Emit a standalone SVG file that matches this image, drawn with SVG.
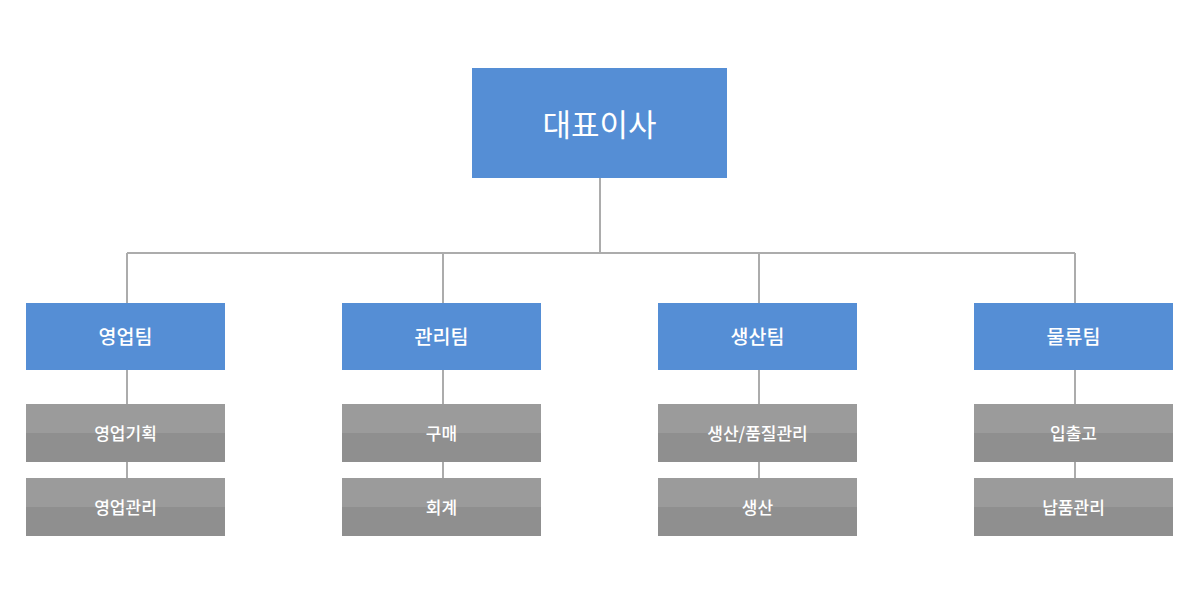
<svg xmlns="http://www.w3.org/2000/svg" width="1200" height="604" viewBox="0 0 1200 604">
<style>
.blue{fill:#558ed5}
.up{fill:#9b9b9b}
.lo{fill:#8f8f8f}
.ln{stroke:#acacac;stroke-width:2;fill:none}
text{font-family:"Noto Sans CJK KR","Noto Sans",sans-serif;fill:#fff;text-anchor:middle}
.t0{font-size:31px}
.t1{font-size:19.5px;font-weight:500}
.t2{font-size:17px;font-weight:500}
</style>
<rect width="1200" height="604" fill="#fff"/>
<g id="connectors">
<path class="ln" d="M600 178V253M127 253H1075M127 253V303M443 253V303M759 253V303M1075 253V303"/>
<path class="ln" d="M127 370V404M127 462V478M443 370V404M443 462V478M759 370V404M759 462V478M1075 370V404M1075 462V478"/>
</g>
<g id="ceo"><rect class="blue" x="472" y="68" width="255" height="110"/><text class="t0" x="599.5" y="136">대표이사</text></g>
<g id="team1"><rect class="blue" x="26" y="303" width="199" height="67"/><text class="t1" x="125.5" y="343.5">영업팀</text></g>
<g id="team2"><rect class="blue" x="342" y="303" width="199" height="67"/><text class="t1" x="441.5" y="343.5">관리팀</text></g>
<g id="team3"><rect class="blue" x="658" y="303" width="199" height="67"/><text class="t1" x="757.5" y="343.5">생산팀</text></g>
<g id="team4"><rect class="blue" x="974" y="303" width="199" height="67"/><text class="t1" x="1073.5" y="343.5">물류팀</text></g>
<g id="s1a"><rect class="up" x="26" y="404" width="199" height="29"/><rect class="lo" x="26" y="433" width="199" height="29"/><text class="t2" x="125.5" y="439.5">영업기획</text></g>
<g id="s1b"><rect class="up" x="26" y="478" width="199" height="29"/><rect class="lo" x="26" y="507" width="199" height="29"/><text class="t2" x="125.5" y="513.5">영업관리</text></g>
<g id="s2a"><rect class="up" x="342" y="404" width="199" height="29"/><rect class="lo" x="342" y="433" width="199" height="29"/><text class="t2" x="441.5" y="439.5">구매</text></g>
<g id="s2b"><rect class="up" x="342" y="478" width="199" height="29"/><rect class="lo" x="342" y="507" width="199" height="29"/><text class="t2" x="441.5" y="513.5">회계</text></g>
<g id="s3a"><rect class="up" x="658" y="404" width="199" height="29"/><rect class="lo" x="658" y="433" width="199" height="29"/><text class="t2" x="757.5" y="439.5">생산/품질관리</text></g>
<g id="s3b"><rect class="up" x="658" y="478" width="199" height="29"/><rect class="lo" x="658" y="507" width="199" height="29"/><text class="t2" x="757.5" y="513.5">생산</text></g>
<g id="s4a"><rect class="up" x="974" y="404" width="199" height="29"/><rect class="lo" x="974" y="433" width="199" height="29"/><text class="t2" x="1073.5" y="439.5">입출고</text></g>
<g id="s4b"><rect class="up" x="974" y="478" width="199" height="29"/><rect class="lo" x="974" y="507" width="199" height="29"/><text class="t2" x="1073.5" y="513.5">납품관리</text></g>
</svg>
